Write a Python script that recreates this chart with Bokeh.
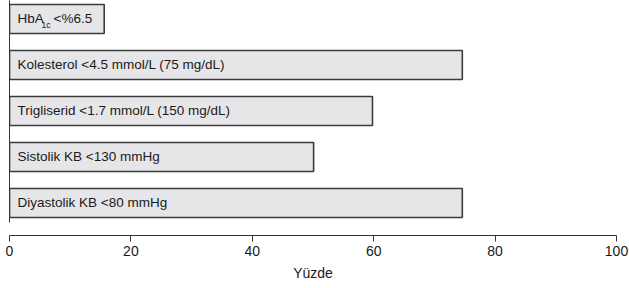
from bokeh.plotting import figure
from bokeh.models import Range1d, LinearAxis, FixedTicker, ColumnDataSource
from bokeh.core.properties import value
from bokeh.embed import file_html
from bokeh.resources import INLINE

# data (top to bottom as in the chart)
labels = ["HbA", "Kolesterol <4.5 mmol/L (75 mg/dL)", "Trigliserid <1.7 mmol/L (150 mg/dL)",
          "Sistolik KB <130  mmHg", "Diyastolik KB <80 mmHg"]
percent = [15.6, 74.6, 59.8, 50.1, 74.6]
x_ticks = [0, 20, 40, 60, 80, 100]
x_label = "Yüzde"

n = len(labels)
ypos = [n - 1 - i for i in range(n)]

FONT = "Liberation Sans"
p = figure(width=629, height=288, output_backend="svg", toolbar_location=None,
           x_range=Range1d(0, 100), y_range=Range1d(-0.7065, 4.402),
           x_axis_location=None, y_axis_location=None,
           min_border_left=9, min_border_right=13, min_border_top=0, min_border_bottom=53)
p.outline_line_color = None
p.xgrid.visible = False
p.ygrid.visible = False
p.background_fill_color = "white"

src = ColumnDataSource(dict(y=ypos, right=percent, label=labels))
p.hbar(y="y", left=0, right="right", height=0.63, source=src,
       fill_color="#e6e6e8", line_color="#3c3c3c", line_width=1.6)

p.text(x=0, y="y", text="label", source=src, x_offset=8, text_baseline="middle",
       text_font=value(FONT), text_font_size="13.5px", text_color="#1a1a1a")
# subscript and rest of HbA1c label
p.text(x=[0], y=[ypos[0]], text=["1c"], x_offset=32, y_offset=6, text_baseline="middle",
       text_font=value(FONT), text_font_size="8.5px", text_color="#1a1a1a")
p.text(x=[0], y=[ypos[0]], text=["<%6.5"], x_offset=44, text_baseline="middle",
       text_font=value(FONT), text_font_size="13.5px", text_color="#1a1a1a")

xaxis = LinearAxis(ticker=FixedTicker(ticks=x_ticks), bounds=(0, 100), axis_label=x_label)
xaxis.major_tick_in = 0
xaxis.major_tick_out = 6
xaxis.minor_tick_line_color = None
xaxis.axis_line_color = "#333333"
xaxis.major_tick_line_color = "#333333"
xaxis.major_label_standoff = 4
xaxis.major_label_text_font = FONT
xaxis.major_label_text_font_size = "14px"
xaxis.major_label_text_color = "#1a1a1a"
xaxis.axis_label_standoff = 6
xaxis.axis_label_text_font = FONT
xaxis.axis_label_text_font_size = "14px"
xaxis.axis_label_text_font_style = "normal"
xaxis.axis_label_text_color = "#1a1a1a"
p.add_layout(xaxis, "below")

yaxis = LinearAxis(ticker=FixedTicker(ticks=[]), bounds=(-0.424, 4.402))
yaxis.major_tick_in = 0
yaxis.major_tick_out = 0
yaxis.minor_tick_line_color = None
yaxis.major_label_text_font_size = "0px"
yaxis.axis_line_color = "#333333"
yaxis.major_label_standoff = 0
p.add_layout(yaxis, "left")

open("out.html", "w").write(file_html(p, INLINE))
